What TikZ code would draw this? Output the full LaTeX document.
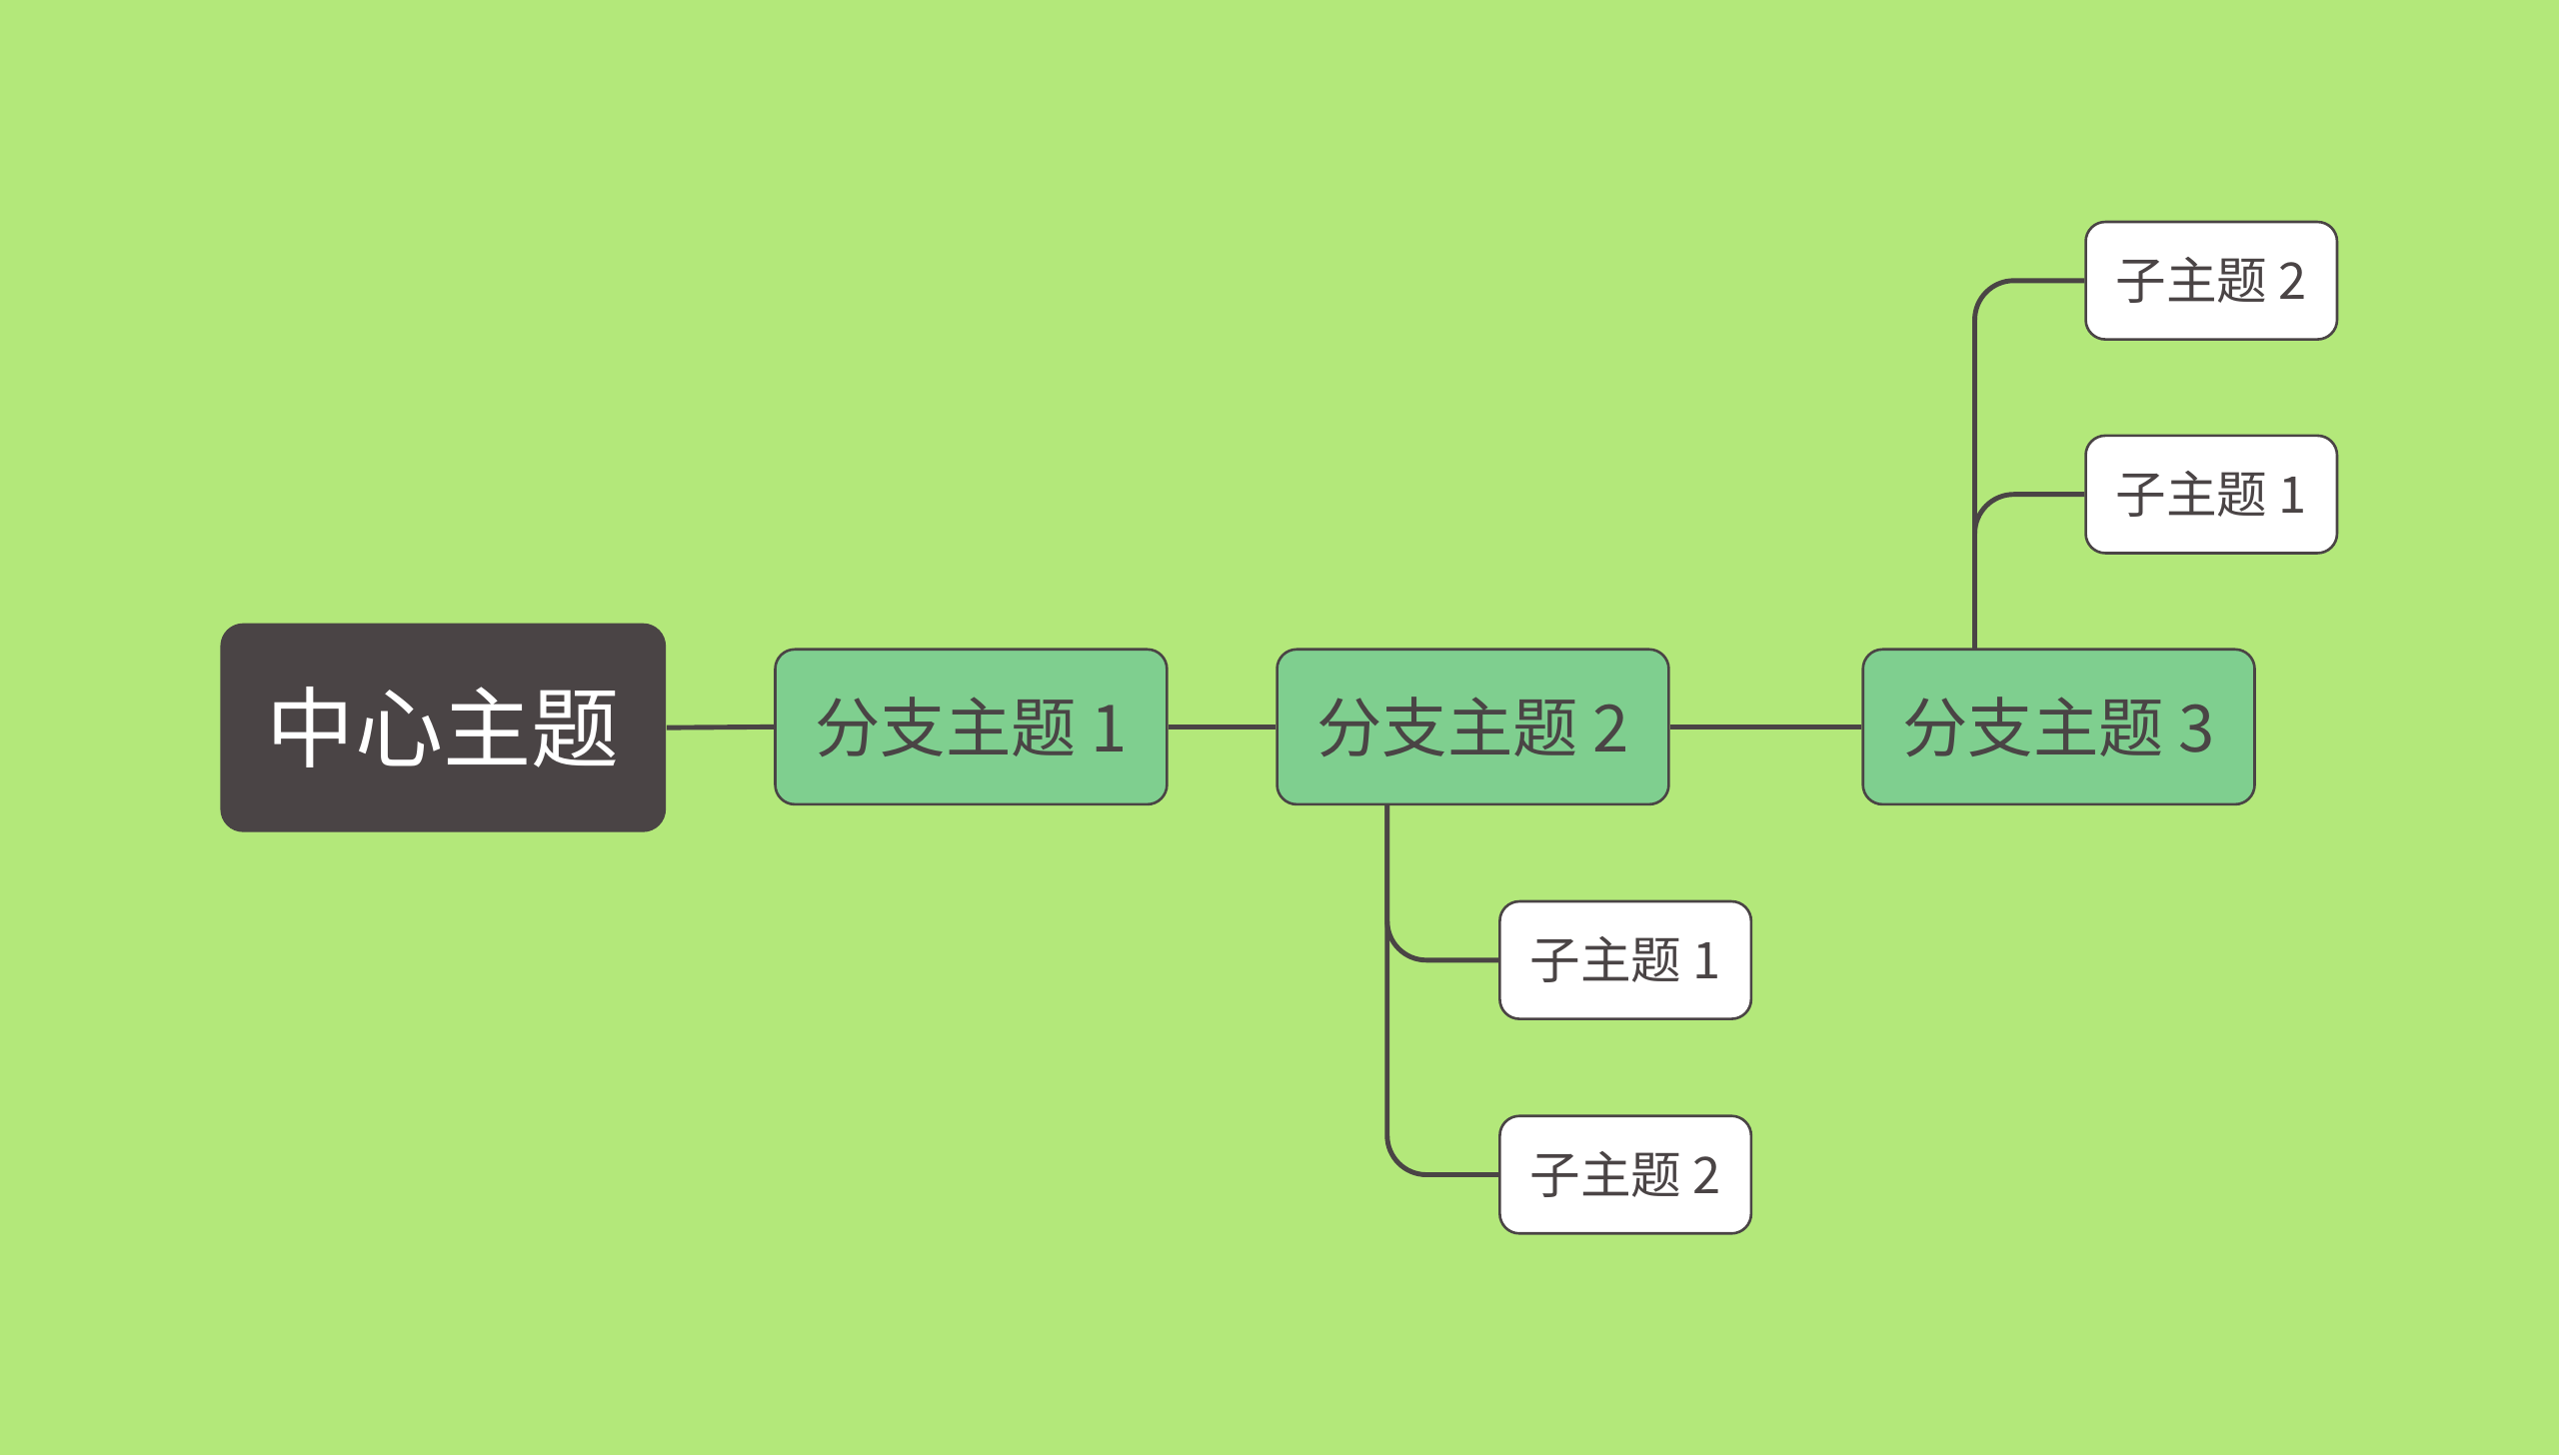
\documentclass[tikz,border=0pt]{standalone}
\usepackage{fontspec}
\newfontfamily\cjk{Noto Sans CJK SC}
\definecolor{bg}{HTML}{B3E87A}
\definecolor{dark}{HTML}{4A4445}
\definecolor{grn}{HTML}{7FCF8F}
\tikzset{
 conn/.style={draw=dark,line width=1.5pt,rounded corners=12pt},
 mainbox/.style={fill=dark,rounded corners=7pt,minimum width=136.5pt,minimum height=64pt,text=white,font=\cjk\fontsize{27}{30}\selectfont},
 branchbox/.style={fill=grn,draw=dark,line width=0.8pt,rounded corners=6pt,minimum width=120pt,minimum height=47.5pt,text=dark,font=\cjk\fontsize{20}{24}\selectfont},
 subbox/.style={fill=white,draw=dark,line width=0.8pt,rounded corners=6pt,minimum width=77pt,minimum height=36pt,text=dark,font=\cjk\fontsize{15.5}{18}\selectfont},
}
\begin{document}
\begin{tikzpicture}[x=0.5pt,y=-0.5pt]
\fill[bg] (0,0) rectangle (1568,892);
\useasboundingbox (0,0) rectangle (1568,892);
\node[mainbox] (c) at (271.5,446) {中心主题};
\node[branchbox] (b1) at (595,445.5) {分支主题 1};
\node[branchbox] (b2) at (902.5,445.5) {分支主题 2};
\node[branchbox] (b3) at (1261.5,445.5) {分支主题 3};
\node[subbox] (s21) at (996,588.5) {子主题 1};
\node[subbox] (s22) at (996,720) {子主题 2};
\node[subbox] (s32) at (1355,172) {子主题 2};
\node[subbox] (s31) at (1355,303) {子主题 1};
\coordinate (v2) at (850,493);
\coordinate (v3) at (1210,398);
\begin{scope}[on background layer/.style={}]
\end{scope}
\draw[conn] (c.east) -- (b1.west);
\draw[conn] (b1.east) -- (b2.west);
\draw[conn] (b2.east) -- (b3.west);
\draw[conn] (v2) |- (s21.west);
\draw[conn] (v2) |- (s22.west);
\draw[conn] (v3) |- (s31.west);
\draw[conn] (v3) |- (s32.west);
\end{tikzpicture}
\end{document}
